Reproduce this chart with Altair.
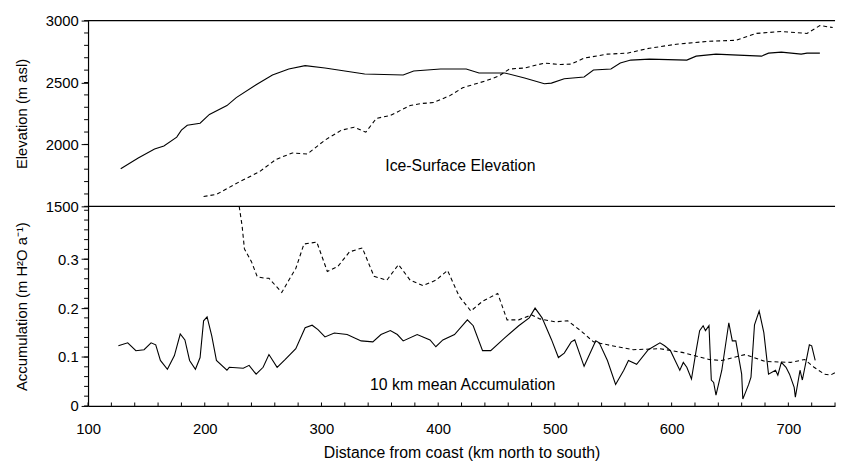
import altair as alt
import pandas as pd

# ---------------- data ----------------
elev1_km = [128, 143, 157, 165, 176, 180, 185, 196, 204, 219, 227, 244, 258, 272, 286,
            303, 337, 370, 379, 402, 424, 435, 457, 474, 491, 497, 508, 525, 533, 548,
            556, 565, 581, 613, 621, 638, 657, 677, 683, 694, 711, 716, 727]
elev1_m = [1804, 1891, 1963, 1987, 2059, 2115, 2155, 2171, 2242, 2314, 2378, 2482, 2561,
           2609, 2636, 2617, 2569, 2561, 2593, 2609, 2609, 2577, 2577, 2537, 2490, 2495,
           2530, 2545, 2601, 2609, 2657, 2681, 2689, 2681, 2713, 2729, 2721, 2713, 2737,
           2745, 2729, 2737, 2737]

elev2_km = [199, 210, 230, 247, 261, 275, 288, 303, 317, 328, 338, 347, 359, 376, 385,
            396, 410, 421, 441, 452, 461, 474, 491, 505, 514, 525, 545, 562, 581, 604,
            632, 655, 672, 694, 716, 727, 738]
elev2_m = [1580, 1596, 1700, 1780, 1879, 1931, 1923, 2035, 2115, 2139, 2099, 2210, 2234,
           2314, 2330, 2338, 2394, 2458, 2514, 2553, 2609, 2617, 2657, 2645, 2649, 2697,
           2729, 2737, 2777, 2809, 2833, 2841, 2896, 2912, 2896, 2960, 2944]

acc1_km = [126, 134, 141, 148, 154, 158, 162, 168, 174, 179, 183, 187, 192, 196, 199,
           202, 206, 210, 219, 221, 233, 238, 244, 250, 255, 262, 269, 278, 286, 292,
           297, 303, 311, 322, 334, 344, 351, 359, 365, 370, 382, 393, 398, 404, 414,
           425, 430, 438, 445, 457, 469, 478, 483, 489, 497, 503, 508, 514, 517, 525,
           535, 538, 545, 552, 559, 563, 570, 580, 590, 594, 599, 603, 607, 610, 613,
           617, 621, 624, 627, 629, 632, 634, 636, 638, 643, 649, 652, 655, 660, 661,
           666, 668, 671, 675, 679, 683, 689, 691, 694, 698, 701, 705, 706, 710, 712,
           718, 720, 723]
acc1_v = [0.123, 0.129, 0.113, 0.115, 0.129, 0.125, 0.093, 0.075, 0.103, 0.147, 0.135,
          0.093, 0.075, 0.099, 0.174, 0.182, 0.143, 0.093, 0.073, 0.079, 0.077, 0.083,
          0.065, 0.079, 0.105, 0.079, 0.095, 0.117, 0.160, 0.165, 0.156, 0.141, 0.149,
          0.146, 0.133, 0.131, 0.146, 0.154, 0.146, 0.133, 0.146, 0.135, 0.121, 0.135,
          0.146, 0.176, 0.164, 0.113, 0.113, 0.139, 0.164, 0.180, 0.200, 0.180, 0.136,
          0.099, 0.108, 0.131, 0.135, 0.081, 0.133, 0.129, 0.093, 0.044, 0.073, 0.093,
          0.085, 0.115, 0.129, 0.123, 0.113, 0.093, 0.073, 0.089, 0.079, 0.055, 0.113,
          0.154, 0.164, 0.154, 0.164, 0.053, 0.048, 0.022, 0.073, 0.170, 0.133, 0.133,
          0.065, 0.014, 0.044, 0.059, 0.166, 0.194, 0.150, 0.065, 0.073, 0.063, 0.089,
          0.079, 0.065, 0.038, 0.018, 0.073, 0.053, 0.125, 0.123, 0.093]

acc2_km = [229.5, 232, 234, 240, 245, 252, 255, 266, 272, 278, 285, 296, 305, 314, 324,
           335, 345, 356, 366, 376, 387, 398, 408, 418, 428, 438, 451, 459, 469, 480,
           487, 500, 511, 522, 533, 545, 567, 590, 610, 632, 643, 663, 680, 702, 714,
           722, 731, 736, 740]
acc2_v = [0.408, 0.368, 0.321, 0.295, 0.264, 0.261, 0.261, 0.232, 0.257, 0.281, 0.331,
          0.335, 0.275, 0.285, 0.315, 0.323, 0.265, 0.257, 0.289, 0.257, 0.246, 0.257,
          0.277, 0.224, 0.194, 0.214, 0.230, 0.176, 0.176, 0.186, 0.178, 0.172, 0.174,
          0.154, 0.131, 0.125, 0.115, 0.117, 0.109, 0.095, 0.093, 0.105, 0.091, 0.089,
          0.095, 0.079, 0.065, 0.063, 0.068]

x_ticks = list(range(100, 741, 20))
x_labels = [100, 200, 300, 400, 500, 600, 700]
elev_ticks = list(range(1500, 3001, 100))
elev_labels = [1500, 2000, 2500, 3000]
acc_ticks = [round(i * 0.02, 2) for i in range(0, 21)]
acc_labels = [0, 0.1, 0.2, 0.3]

label_top = "Ice-Surface Elevation"
label_bottom = "10 km mean Accumulation"

# ---------------- chart ----------------
W, H1, H2 = 756, 188, 202
FONT = "Liberation Sans"
xscale = alt.Scale(domain=[100, 740], nice=False, zero=False)
yscale_top = alt.Scale(domain=[1500, 3000], nice=False, zero=False)
yscale_bot = alt.Scale(domain=[0, 0.408], nice=False, zero=True)
xnone = alt.X("km:Q", scale=xscale, axis=None)

# ---- top panel ----
ytop_main = alt.Y("v:Q", scale=yscale_top,
                  axis=alt.Axis(values=elev_labels, title="Elevation (m asl)", format="d",
                                tickSize=7, labelOverlap=False, domain=True,
                                titleX=-67, titleY=H1 / 2, titleBaseline="middle",
                                titleAngle=-90, titleAlign="center"))
l1 = alt.Chart(pd.DataFrame({"km": elev1_km, "v": elev1_m})).mark_line(
    color="black", strokeWidth=1.1).encode(x=xnone, y=ytop_main)
l2 = alt.Chart(pd.DataFrame({"km": elev2_km, "v": elev2_m})).mark_line(
    color="black", strokeWidth=1.1, strokeDash=[4, 3]).encode(
    x=xnone, y=alt.Y("v:Q", scale=yscale_top))
minor_top = alt.Chart(pd.DataFrame({"v": elev_ticks})).mark_rule(color="black", strokeWidth=1).encode(
    y=alt.Y("v:Q", scale=yscale_top), x=alt.value(-4), x2=alt.value(0))
borders = alt.Chart(pd.DataFrame({"v": [1500, 3000]})).mark_rule(
    color="black", strokeWidth=1.3).encode(y=alt.Y("v:Q", scale=yscale_top))
txt_top = alt.Chart(pd.DataFrame({"km": [419], "v": [1828], "t": [label_top]})).mark_text(
    font=FONT, fontSize=16, color="black").encode(
    x=xnone, y=alt.Y("v:Q", scale=yscale_top), text="t:N")
top = alt.layer(l1, l2, minor_top, borders, txt_top).properties(width=W, height=H1)

# ---- bottom panel ----
ybot_main = alt.Y("v:Q", scale=yscale_bot,
                  axis=alt.Axis(values=acc_labels, title="Accumulation (m H²O a⁻¹)",
                                tickSize=7, labelOverlap=False, domain=True,
                                labelExpr="datum.value == 0 ? '0' : format(datum.value, '.1f')",
                                titleX=-67, titleY=H2 / 2, titleBaseline="middle",
                                titleAngle=-90, titleAlign="center"))
xbot = alt.X("km:Q", scale=xscale,
             axis=alt.Axis(values=x_labels, title="Distance from coast (km north to south)",
                           tickSize=0, labelPadding=16, titlePadding=8, format="d",
                           titleFontSize=16, labelFlush=False, labelOverlap=False))
sol = alt.Chart(pd.DataFrame({"km": acc1_km, "v": acc1_v})).mark_line(
    color="black", strokeWidth=1.1).encode(x=xbot, y=ybot_main)
das = alt.Chart(pd.DataFrame({"km": acc2_km, "v": acc2_v})).mark_line(
    color="black", strokeWidth=1.1, strokeDash=[4, 3]).encode(
    x=alt.X("km:Q", scale=xscale), y=alt.Y("v:Q", scale=yscale_bot))
minor_bot = alt.Chart(pd.DataFrame({"v": acc_ticks})).mark_rule(color="black", strokeWidth=1).encode(
    y=alt.Y("v:Q", scale=yscale_bot), x=alt.value(-4), x2=alt.value(0))
xt = alt.Chart(pd.DataFrame({"km": x_ticks})).mark_rule(color="black", strokeWidth=1).encode(
    x=alt.X("km:Q", scale=xscale), y=alt.value(H2 - 3.5), y2=alt.value(H2))
txt_bot = alt.Chart(pd.DataFrame({"km": [421], "v": [0.042], "t": [label_bottom]})).mark_text(
    font=FONT, fontSize=16, color="black").encode(
    x=alt.X("km:Q", scale=xscale), y=alt.Y("v:Q", scale=yscale_bot), text="t:N")
bottom = alt.layer(sol, das, minor_bot, xt, txt_bot).properties(width=W, height=H2)

chart = alt.vconcat(top, bottom, spacing=0, bounds="flush").properties(
    padding={"left": 6, "top": 3, "right": 0, "bottom": 0},
    background="white",
).configure_view(stroke=None).configure_axis(
    labelFont=FONT, titleFont=FONT, labelFontSize=15, titleFontSize=15,
    labelColor="black", titleColor="black", titleFontWeight="normal",
    domainColor="black", tickColor="black", domainWidth=1.2, tickWidth=1,
    grid=False, labelPadding=3,
)

chart.save("out.html", embed_options={"renderer": "svg", "actions": False})
